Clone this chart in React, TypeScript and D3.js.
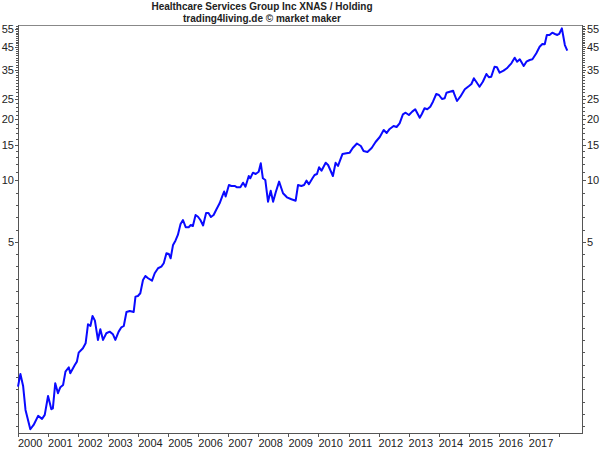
import React from "react";
import * as d3 from "d3";

const title = "Healthcare Services Group Inc XNAS / Holding";
const subtitle = "trading4living.de \u00a9 market maker";

const years = [2000.00,2000.08,2000.17,2000.25,2000.41,2000.52,2000.67,2000.80,2000.89,2001.00,2001.11,2001.16,2001.24,2001.33,2001.41,2001.50,2001.58,2001.69,2001.74,2001.89,2001.96,2002.02,2002.16,2002.25,2002.33,2002.41,2002.48,2002.56,2002.66,2002.74,2002.83,2002.94,2003.05,2003.16,2003.24,2003.35,2003.44,2003.52,2003.61,2003.72,2003.85,2003.91,2003.99,2004.07,2004.16,2004.24,2004.33,2004.46,2004.55,2004.66,2004.77,2004.85,2004.94,2005.02,2005.08,2005.16,2005.24,2005.32,2005.41,2005.49,2005.58,2005.68,2005.75,2005.82,2005.91,2005.99,2006.07,2006.16,2006.26,2006.34,2006.42,2006.51,2006.61,2006.71,2006.80,2006.86,2006.91,2007.02,2007.10,2007.21,2007.29,2007.40,2007.49,2007.57,2007.68,2007.73,2007.82,2007.91,2008.01,2008.08,2008.15,2008.23,2008.32,2008.41,2008.49,2008.58,2008.69,2008.82,2008.95,2009.10,2009.24,2009.32,2009.43,2009.52,2009.60,2009.68,2009.80,2009.87,2009.95,2010.02,2010.10,2010.24,2010.32,2010.48,2010.57,2010.65,2010.80,2010.93,2011.04,2011.14,2011.28,2011.41,2011.50,2011.63,2011.77,2011.90,2012.04,2012.17,2012.27,2012.37,2012.50,2012.60,2012.70,2012.81,2012.90,2013.01,2013.12,2013.22,2013.29,2013.37,2013.44,2013.53,2013.62,2013.72,2013.81,2013.92,2014.01,2014.11,2014.20,2014.26,2014.37,2014.48,2014.53,2014.61,2014.72,2014.87,2015.01,2015.09,2015.17,2015.25,2015.36,2015.47,2015.59,2015.67,2015.75,2015.86,2015.94,2016.03,2016.16,2016.27,2016.42,2016.53,2016.61,2016.70,2016.83,2016.92,2017.03,2017.12,2017.25,2017.36,2017.45,2017.53,2017.60,2017.69,2017.78,2017.87,2017.95,2018.01,2018.10,2018.14,2018.20,2018.28];

const prices = [0.976,1.126,0.983,0.750,0.603,0.633,0.701,0.678,0.709,0.878,0.756,0.764,1.014,0.906,0.969,0.994,1.155,1.214,1.135,1.246,1.294,1.432,1.505,1.592,1.973,1.935,2.167,2.055,1.653,1.865,1.653,1.782,1.815,1.762,1.653,1.815,1.907,1.935,2.267,2.293,2.267,2.694,2.715,2.800,3.253,3.403,3.316,3.227,3.509,3.712,3.780,3.928,4.396,4.362,4.155,4.830,5.07,5.405,6.12,6.40,5.90,5.90,6.05,5.98,6.77,6.64,6.40,6.02,6.93,6.93,6.62,6.77,7.25,7.73,8.39,8.83,8.35,9.50,9.40,9.40,9.26,9.26,9.75,9.32,10.52,10.25,10.92,10.76,11.04,12.14,10.25,10.06,7.87,8.91,7.87,8.78,9.87,8.66,8.27,8.09,7.96,9.50,9.40,9.50,9.98,9.58,10.25,10.64,10.76,11.61,11.17,12.22,11.91,10.52,12.22,11.78,13.49,13.60,13.69,14.43,15.18,14.76,13.95,13.80,14.43,15.44,16.34,17.69,17.10,17.89,18.50,18.29,19.07,21.11,21.49,20.95,21.75,22.34,21.35,20.32,21.18,22.59,22.34,23.00,24.34,26.55,26.25,25.09,25.29,26.94,27.25,27.56,26.25,24.53,25.75,28.00,29.06,29.72,31.70,30.50,28.83,30.50,33.27,32.06,32.28,36.13,35.89,33.77,34.54,35.48,37.54,40.0,38.23,39.28,36.42,38.23,38.97,39.28,42.03,45.29,46.69,46.53,51.68,51.68,53.04,52.27,51.68,52.27,55.69,51.68,46.15,43.28];

const yLabelTicks = [5, 10, 15, 20, 25, 35, 45, 55];
const yearTicks = d3.range(2000, 2019);
const yearLabels = d3.range(2000, 2018);

export default function App() {
  const W = 600, H = 450;
  const left = 18, right = 582, top = 25, bottom = 433;
  const x = d3.scaleLinear().domain([2000, 2018.77]).range([left, right]);
  const y = d3.scaleLog().domain([0.578, 57.85]).range([bottom, top]);

  const n = Math.min(years.length, prices.length);
  const pts: [number, number][] = d3.range(n).map((i) => [years[i], prices[i]]);
  const line = d3.line<[number, number]>().x((d) => x(d[0])).y((d) => y(d[1]));

  // minor ticks: below 10 spaced by 2^(1/5), above 10 integer values
  const minorLow = d3.range(0, 22).map((k) => 10 * Math.pow(2, -k / 5)).filter((v) => v >= 0.578);
  const minorHigh = d3.range(11, 58);
  const minor = [...minorLow, ...minorHigh];

  const font = "'Liberation Sans', Arial, sans-serif";
  const axisColor = "#555";
  const textColor = "#222";

  return (
    <svg width={W} height={H} style={{ position: "absolute", left: 0, top: 0, background: "#fff" }} fontFamily={font}>
      <rect x={0} y={0} width={W} height={H} fill="#fff" />
      <text x={262} y={10} textAnchor="middle" fontSize={10} fontWeight="bold" fill="#222">{title}</text>
      <text x={262} y={21.5} textAnchor="middle" fontSize={10} fontWeight="bold" fill="#222">{subtitle}</text>

      {/* frame */}
      <line x1={left} x2={right} y1={top + 0.5} y2={top + 0.5} stroke="#888" strokeWidth={1} />
      <line x1={left + 0.5} x2={left + 0.5} y1={top} y2={bottom} stroke={axisColor} strokeWidth={1} />
      <line x1={right + 0.5} x2={right + 0.5} y1={top} y2={bottom} stroke={axisColor} strokeWidth={1} />
      <line x1={left} x2={right + 1} y1={bottom + 0.5} y2={bottom + 0.5} stroke={axisColor} strokeWidth={1} />

      {/* y minor ticks */}
      {minor.map((v, i) => (
        <g key={"m" + i}>
          <line x1={left - 2} x2={left} y1={Math.round(y(v)) + 0.5} y2={Math.round(y(v)) + 0.5} stroke={axisColor} />
          <line x1={right + 1} x2={right + 3} y1={Math.round(y(v)) + 0.5} y2={Math.round(y(v)) + 0.5} stroke={axisColor} />
        </g>
      ))}
      {yLabelTicks.map((v) => (
        <g key={"l" + v}>
          <line x1={left - 3} x2={left} y1={Math.round(y(v)) + 0.5} y2={Math.round(y(v)) + 0.5} stroke={axisColor} />
          <line x1={right + 1} x2={right + 4} y1={Math.round(y(v)) + 0.5} y2={Math.round(y(v)) + 0.5} stroke={axisColor} />
          <text x={14} y={y(v) + 4} textAnchor="end" fontSize={11} fill={textColor}>{v}</text>
          <text x={587} y={y(v) + 4} textAnchor="start" fontSize={11} fill={textColor}>{v}</text>
        </g>
      ))}

      {/* x ticks */}
      {yearTicks.map((t) => (
        <line key={"t" + t} x1={Math.round(x(t)) + 0.5} x2={Math.round(x(t)) + 0.5} y1={bottom} y2={bottom + 4} stroke={axisColor} />
      ))}
      {yearLabels.map((t) => (
        <text key={"y" + t} x={x(t)} y={447} textAnchor="start" fontSize={11} fill={textColor}>{t}</text>
      ))}

      <path d={line(pts) || ""} fill="none" stroke="#0a0aff" strokeWidth={2} strokeLinejoin="round" />
    </svg>
  );
}
